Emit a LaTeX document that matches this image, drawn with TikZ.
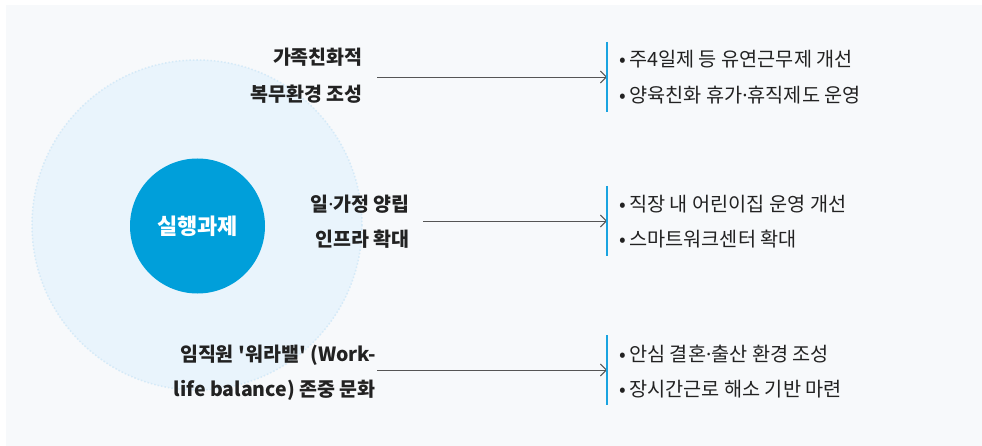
\documentclass[tikz,border=0pt]{standalone}
\usepackage{fontspec}
\setmainfont{Noto Sans CJK KR}[Ligatures=TeXOff]
\newfontfamily\dotfont{Noto Sans}
\newcommand{\mdot}{{\dotfont ·}}
\usetikzlibrary{arrows.meta,positioning}
\definecolor{bgcol}{HTML}{F7F9FB}
\definecolor{halocol}{HTML}{E9F4FC}
\definecolor{haloedge}{HTML}{D5EAF8}
\definecolor{corecol}{HTML}{009FDA}
\definecolor{textcol}{HTML}{222222}
\definecolor{arrowcol}{HTML}{555555}
\definecolor{barcol}{HTML}{1AA4E0}

\begin{document}
\begin{tikzpicture}[x=1pt,y=-1pt,>={Straight Barb[length=6pt,width=12pt]},semithick]
		\tikzstyle{task}=[font=\fontsize{19.5}{21}\selectfont\bfseries,text=textcol,align=right,anchor=east,inner sep=0pt]
		\tikzstyle{item}=[font=\fontsize{19.7}{22}\selectfont,text=textcol,align=left,anchor=west,inner sep=0pt]
		\tikzstyle{link}=[->,draw=arrowcol,line width=0.9pt]
		\tikzstyle{bar}=[draw=barcol,line width=1.2pt]
		\useasboundingbox (0,0) rectangle (982,446);
		\fill[bgcol] (6,5) rectangle (982,446);
		\fill[halocol] (197,225) circle (165);
		\draw[haloedge,dotted,line width=1.5pt] (197,225) circle (165);
		\node[circle,fill=corecol,minimum size=135,inner sep=0pt,text=white,font=\fontsize{22}{24}\selectfont\bfseries] (core) at (197.5,226) {실행과제};
		% left side tasks
		\node[task] (t1a) at (363,57) {가족친화적};
		\node[task] (t1b) at (363,94) {복무환경 조성};
		\node[task] (t2a) at (410,204) {일\mdot 가정 양립};
		\node[task] (t2b) at (410,239) {인프라 확대};
		\node[task] (t3a) at (376,355) {임직원 '워라밸' (Work-};
		\node[task] (t3b) at (376,390) {life balance) 존중 문화};
		% arrows and bars
		\coordinate (a1) at (377,77);
		\coordinate (a2) at (423,221);
		\coordinate (a3) at (377,370);
		\coordinate (b1s) at (607,42);
		\coordinate (b1e) at (607,112);
		\coordinate (b2s) at (607,186);
		\coordinate (b2e) at (607,256);
		\coordinate (b3s) at (607,335);
		\coordinate (b3e) at (607,405);
		\draw[link] (a1) -- (b1s |- a1);
		\draw[link] (a2) -- (b2s |- a2);
		\draw[link] (a3) -- (b3s |- a3);
		\draw[bar] (b1s) -- (b1e);
		\draw[bar] (b2s) -- (b2e);
		\draw[bar] (b3s) -- (b3e);
		% right side items
		\node[item] (i1a) at (619,59) {•\,주4일제 등 유연근무제 개선};
		\node[item] (i1b) at (619,95) {•\,양육친화 휴가\mdot 휴직제도 운영};
		\node[item] (i2a) at (619,204) {•\,직장 내 어린이집 운영 개선};
		\node[item] (i2b) at (619,239) {•\,스마트워크센터 확대};
		\node[item] (i3a) at (619,354) {•\,안심 결혼\mdot 출산 환경 조성};
		\node[item] (i3b) at (619,389) {•\,장시간근로 해소 기반 마련};
\end{tikzpicture}
\end{document}
